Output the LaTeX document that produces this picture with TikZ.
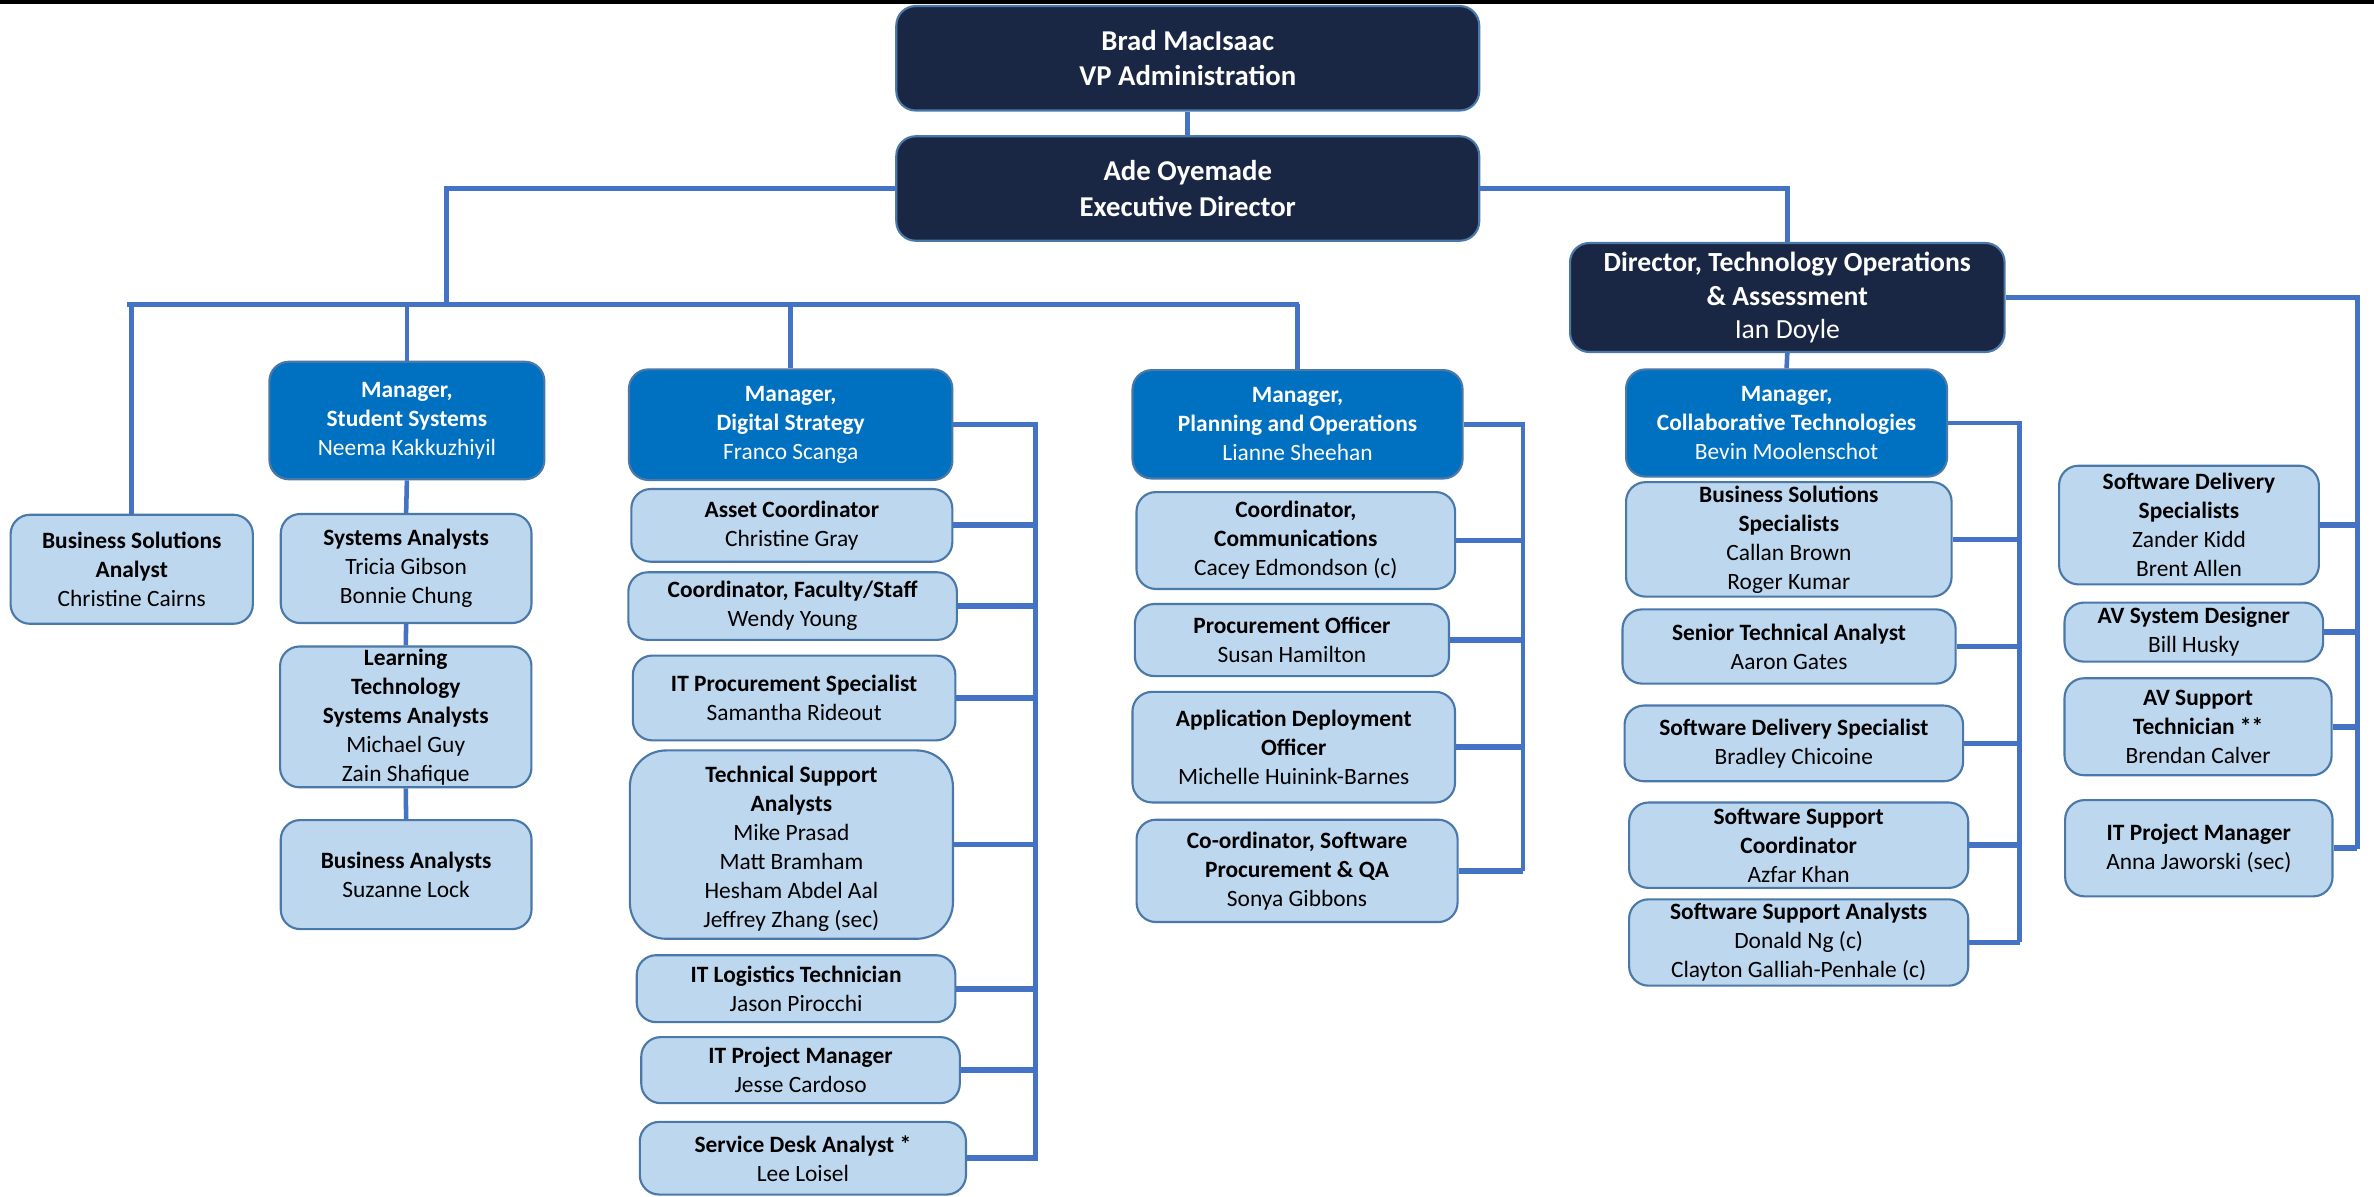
\documentclass[tikz,border=0pt]{standalone}
\usepackage{fontspec}
\setmainfont{Carlito}
\usepackage{xcolor}
\usepackage{tikz}
\usetikzlibrary{positioning, calc}

\definecolor{navy}{HTML}{1A2744}
\definecolor{mgrblue}{HTML}{0070C0}
\definecolor{staffblue}{HTML}{BDD7EE}
\definecolor{boxline}{HTML}{4A78A8}
\definecolor{linkblue}{HTML}{4472C4}

\tikzset{
    orgbox/.style={rectangle,rounded corners=3.2mm,draw=boxline,line width=0.35mm,align=center,inner sep=1pt},
    topbox/.style={orgbox,fill=navy,text=white,font=\fontsize{13.5}{16.5}\selectfont},
    mgrbox/.style={orgbox,fill=mgrblue,text=white,font=\fontsize{11}{13.6}\selectfont},
    staffbox/.style={orgbox,fill=staffblue,text=black,font=\fontsize{11}{13.6}\selectfont},
    conn/.style={draw=linkblue,line width=0.75mm},
    stub/.style={draw=linkblue,line width=0.95mm}
}

\begin{document}
\begin{tikzpicture}[x=0.25mm,y=-0.25mm]
    \useasboundingbox (0,0) rectangle (1568,790);
    \fill[black] (0,0) rectangle (1568,2.5);

    % Vertice
    \node[topbox,minimum width=96.25mm,minimum height=17.25mm] (vp) at (784.5,38.5) {\textbf{Brad MacIsaac}\\\textbf{VP Administration}};
    \node[topbox,minimum width=96.25mm,minimum height=17.25mm] (exec) at (784.5,124.5) {\textbf{Ade Oyemade}\\\textbf{Executive Director}};
    \node[topbox,font=\fontsize{13}{15.8}\selectfont,minimum width=71.75mm,minimum height=18mm] (dir) at (1180.5,196.5) {\textbf{Director, Technology Operations}\\\textbf{\& Assessment}\\Ian Doyle};

    % Manager
    \node[mgrbox,minimum width=45.4mm,minimum height=19.4mm] (stud) at (268.75,277.75) {\textbf{Manager,}\\\textbf{Student Systems}\\Neema Kakkuzhiyil};
    \node[mgrbox,minimum width=53.4mm,minimum height=18.25mm] (dig) at (522.25,280.5) {\textbf{Manager,}\\\textbf{Digital Strategy}\\Franco Scanga};
    \node[mgrbox,minimum width=54.5mm,minimum height=17.9mm] (plan) at (857,280.25) {\textbf{Manager,}\\\textbf{Planning and Operations}\\Lianne Sheehan};
    \node[mgrbox,minimum width=53mm,minimum height=17.7mm] (collab) at (1180,279.4) {\textbf{Manager,}\\\textbf{Collaborative Technologies}\\Bevin Moolenschot};

    % Student Systems
    \node[staffbox,minimum width=40mm,minimum height=18mm] (bsa) at (87,376) {\textbf{Business Solutions}\\\textbf{Analyst}\\Christine Cairns};
    \node[staffbox,minimum width=41.4mm,minimum height=18mm] (sa) at (268.25,375.5) {\textbf{Systems Analysts}\\Tricia Gibson\\Bonnie Chung};
    \node[staffbox,minimum width=41.5mm,minimum height=23.25mm] (ltsa) at (268,473.5) {\textbf{Learning}\\\textbf{Technology}\\\textbf{Systems Analysts}\\Michael Guy\\Zain Shafique};
    \node[staffbox,minimum width=41.4mm,minimum height=18mm] (ba) at (268.25,577.65) {\textbf{Business Analysts}\\Suzanne Lock};

    % Digital Strategy
    \node[staffbox,minimum width=53mm,minimum height=12mm] (ac) at (523,347) {\textbf{Asset Coordinator}\\Christine Gray};
    \node[staffbox,minimum width=54.25mm,minimum height=11.15mm] (cfs) at (523.5,400.3) {\textbf{Coordinator, Faculty/Staff}\\Wendy Young};
    \node[staffbox,minimum width=53.25mm,minimum height=14mm] (itps) at (524.5,461) {\textbf{IT Procurement Specialist}\\Samantha Rideout};
    \node[staffbox,rounded corners=6mm,minimum width=53.35mm,minimum height=31.1mm] (tsa) at (522.7,557.85) {\rule{0pt}{4mm}\textbf{Technical Support}\\\textbf{Analysts}\\Mike Prasad\\Matt Bramham\\Hesham Abdel Aal\\Jeffrey Zhang (sec)};
    \node[staffbox,minimum width=52.6mm,minimum height=11.05mm] (itlt) at (525.8,653) {\textbf{IT Logistics Technician}\\Jason Pirocchi};
    \node[staffbox,minimum width=52.6mm,minimum height=10.9mm] (itpmj) at (528.75,706.8) {\textbf{IT Project Manager}\\Jesse Cardoso};
    \node[staffbox,minimum width=53.85mm,minimum height=12mm] (sda) at (530.3,765) {\textbf{Service Desk Analyst *}\\Lee Loisel};

    % Planning and Operations
    \node[staffbox,minimum width=52.6mm,minimum height=16mm] (cc) at (855.85,357) {\textbf{Coordinator,}\\\textbf{Communications}\\Cacey Edmondson (c)};
    \node[staffbox,minimum width=51.85mm,minimum height=11.9mm] (po) at (853.3,422.75) {\textbf{Procurement Officer}\\Susan Hamilton};
    \node[staffbox,minimum width=53.25mm,minimum height=18.25mm] (ado) at (854.5,493.5) {\textbf{Application Deployment}\\\textbf{Officer}\\Michelle Huinink-Barnes};
    \node[staffbox,minimum width=53mm,minimum height=16.9mm] (cosp) at (856.7,575.2) {\textbf{Co-ordinator, Software}\\\textbf{Procurement \& QA}\\Sonya Gibbons};

    % Collaborative Technologies
    \node[staffbox,minimum width=53.75mm,minimum height=18.9mm] (bss) at (1181.5,356.25) {\textbf{Business Solutions}\\\textbf{Specialists}\\Callan Brown\\Roger Kumar};
    \node[staffbox,minimum width=55mm,minimum height=12.25mm] (sta) at (1181.65,427) {\textbf{Senior Technical Analyst}\\Aaron Gates};
    \node[staffbox,minimum width=55.9mm,minimum height=12.5mm] (sdsp) at (1184.8,491) {\textbf{Software Delivery Specialist}\\Bradley Chicoine};
    \node[staffbox,minimum width=56mm,minimum height=14.1mm] (ssc) at (1188,558.25) {\textbf{Software Support}\\\textbf{Coordinator}\\Azfar Khan};
    \node[staffbox,minimum width=56mm,minimum height=14.25mm] (ssa) at (1188,622.5) {\textbf{Software Support Analysts}\\Donald Ng (c)\\Clayton Galliah-Penhale (c)};

    % Director staff
    \node[staffbox,minimum width=42.9mm,minimum height=19.6mm] (sdss) at (1445.8,346.8) {\textbf{Software Delivery}\\\textbf{Specialists}\\Zander Kidd\\Brent Allen};
    \node[staffbox,minimum width=42.7mm,minimum height=9.75mm] (avsd) at (1449,417.5) {\textbf{AV System Designer}\\Bill Husky};
    \node[staffbox,minimum width=44.1mm,minimum height=16mm] (avst) at (1451.8,480) {\textbf{AV Support}\\\textbf{Technician **}\\Brendan Calver};
    \node[staffbox,minimum width=44.15mm,minimum height=15.9mm] (itpma) at (1452.3,560.25) {\textbf{IT Project Manager}\\Anna Jaworski (sec)};

    % Linee
    \coordinate (busJ) at (295,201);
    \coordinate (busL) at (84,201);
    \coordinate (busR) at (858,201);
    \coordinate (dtop) at (684,280.5);
    \coordinate (dbot) at (684,767);
    \coordinate (ptop) at (1006,280.25);
    \coordinate (pbot) at (1006,575.2);
    \coordinate (ctop) at (1334,279.4);
    \coordinate (cbot) at (1334,622.5);
    \coordinate (rtop) at (1557,196.5);
    \coordinate (rbot) at (1557,561);

    \draw[conn] (vp.south) -- (exec.north);
    \draw[conn] (exec.west) -| (busJ);
    \draw[conn] (busL) -- (busR);
    \draw[conn] (bsa.north) -- (bsa.north |- busL);
    \draw[conn] (stud.north) -- (stud.north |- busL);
    \draw[conn] (dig.north) -- (dig.north |- busL);
    \draw[conn] (plan.north) -- (plan.north |- busL);
    \draw[conn] (exec.east) -| (dir.north);
    \draw[conn] (dir.south) -- (collab.north);

    \draw[conn] (stud.south) -- (sa.north);
    \draw[conn] (sa.south) -- (ltsa.north);
    \draw[conn] (ltsa.south) -- (ba.north);

    \draw[conn] (dig.east) -- (dtop) -- (dbot);
    \foreach \n in {ac,cfs,itps,tsa,itlt,itpmj,sda}
        \draw[stub] (\n.east) -- (\n.east -| dtop);

    \draw[conn] (plan.east) -- (ptop) -- (pbot);
    \foreach \n in {cc,po,ado,cosp}
        \draw[stub] (\n.east) -- (\n.east -| ptop);

    \draw[conn] (collab.east) -- (ctop) -- (cbot);
    \foreach \n in {bss,sta,sdsp,ssc,ssa}
        \draw[stub] (\n.east) -- (\n.east -| ctop);

    \draw[conn] (dir.east) -- (rtop) -- (rbot);
    \foreach \n in {sdss,avsd,avst,itpma}
        \draw[stub] (\n.east) -- (\n.east -| rtop);
\end{tikzpicture}
\end{document}
